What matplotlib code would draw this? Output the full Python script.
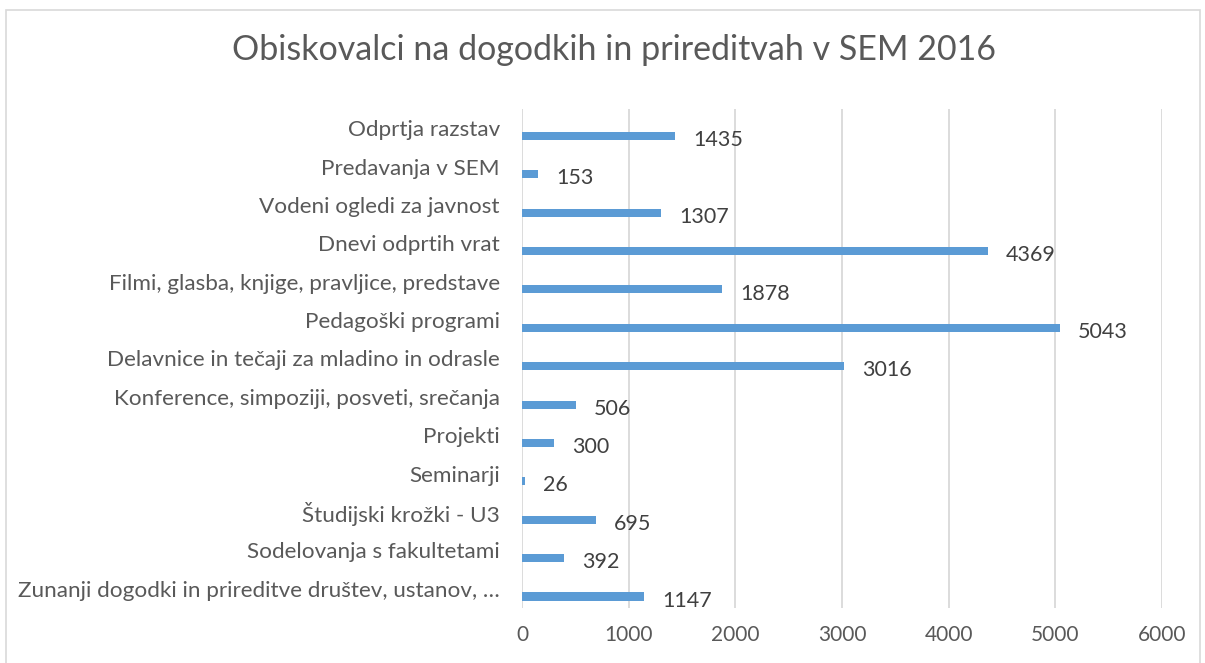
import numpy as np
import matplotlib
matplotlib.use("Agg")
import matplotlib.pyplot as plt
from matplotlib.patches import Rectangle

# data (top to bottom as in the chart)
categories = [
    "Odprtja razstav",
    "Predavanja v SEM",
    "Vodeni ogledi za javnost",
    "Dnevi odprtih vrat",
    "Filmi, glasba, knjige, pravljice, predstave",
    "Pedagoški programi",
    "Delavnice in tečaji za mladino in odrasle",
    "Konference, simpoziji, posveti, srečanja",
    "Projekti",
    "Seminarji",
    "Študijski krožki - U3",
    "Sodelovanja s fakultetami",
    "Zunanji dogodki in prireditve društev, ustanov, …",
]
visitors = [1435, 153, 1307, 4369, 1878, 5043, 3016, 506, 300, 26, 695, 392, 1147]
xticks = [0, 1000, 2000, 3000, 4000, 5000, 6000]

plt.rcParams['font.family'] = ['Lato', 'DejaVu Sans']

fig = plt.figure(figsize=(12.05, 6.63), dpi=100)
ax = fig.add_axes([522/1205, 1-608/663, 640/1205, 499/663])

pos = np.arange(len(categories))
ax.barh(pos + 0.2, visitors, height=0.21, color='#5B9BD5', zorder=3)

for p, v in zip(pos, visitors):
    ax.annotate(str(v), (v, p + 0.2), xytext=(13, -3), textcoords='offset points',
                ha='left', va='center', fontsize=15.5, color='#404040')

ax.set_xlim(0, 6000)
ax.set_ylim(len(categories) - 0.5, -0.5)
ax.set_xticks(xticks)
ax.set_xticklabels([str(t) for t in xticks])
ax.set_yticks(pos)
ax.set_yticklabels(categories)
ax.tick_params(axis='y', length=0, pad=16, labelsize=16.2, labelcolor='#595959')
ax.tick_params(axis='x', length=0, pad=12, labelsize=15, labelcolor='#595959')
ax.grid(axis='x', color='#D9D9D9', linewidth=1.3, zorder=0)
for s in ax.spines.values():
    s.set_visible(False)

fig.text(614/1205, 1-50/663, "Obiskovalci na dogodkih in prireditvah v SEM 2016",
         ha='center', va='center', fontsize=24.5, color='#595959')

fig.patches.append(Rectangle((6/1205, -0.01), 1194/1205, 1.01-10/663,
                             transform=fig.transFigure, fill=False,
                             edgecolor='#D9D9D9', linewidth=1.2))

fig.savefig('out.png', dpi=100)
